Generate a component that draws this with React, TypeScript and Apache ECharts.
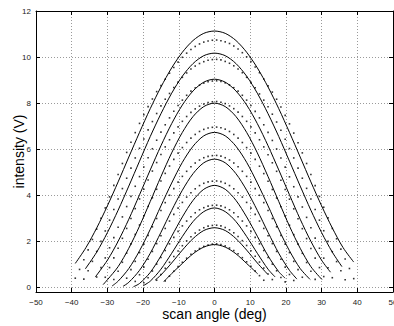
import { useEffect, useRef } from "react";
import * as echarts from "echarts";

// Axis ticks
const xTicks = [-50, -40, -30, -20, -10, 0, 10, 20, 30, 40, 50];
const yTicks = [0, 2, 4, 6, 8, 10, 12];

// Measured scan angles (deg) shared by all sampled profiles
const scanAngles = [
  -39, -37.8, -36.6, -35.4, -34.2, -33, -31.8, -30.6, -29.4, -28.2, -27, -25.8, -24.6, -23.4, -22.2, -21,
  -19.8, -18.6, -17.4, -16.2, -15, -13.8, -12.6, -11.4, -10.2, -9, -7.8, -6.6, -5.4, -4.2, -3, -1.8, -0.6,
  0.6, 1.8, 3, 4.2, 5.4, 6.6, 7.8, 9, 10.2, 11.4, 12.6, 13.8, 15, 16.2, 17.4, 18.6, 19.8, 21, 22.2, 23.4,
  24.6, 25.8, 27, 28.2, 29.4, 30.6, 31.8, 33, 34.2, 35.4, 36.6, 37.8, 39,
];

// Index into scanAngles of the first sample of each measured profile
const measuredStart = [0, 2, 5, 7, 9, 12, 14, 16, 19, 21];

// Measured intensity profiles (V)
const measured1 = [
  0.4, 0.78, 1.2, 1.63, 2.08, 2.53, 3.0, 3.45, 3.93, 4.43, 4.9, 5.38, 5.86, 6.3, 6.72, 7.12, 7.5, 7.85, 8.18,
  8.5, 8.76, 9.04, 9.3, 9.55, 9.78, 9.99, 10.17, 10.33, 10.46, 10.57, 10.65, 10.7, 10.73,
  10.74, 10.71, 10.66, 10.59, 10.48, 10.35, 10.19, 10.01, 9.8, 9.57, 9.32, 9.05, 8.75, 8.48, 8.17, 7.83, 7.47,
  7.1, 6.7, 6.28, 5.84, 5.38, 4.9, 4.42, 3.95, 3.48, 3.02, 2.56, 2.11, 1.66, 1.23, 0.82, 0.38,
];
const measured2 = [
  0.36, 0.72, 1.13, 1.56, 2.0, 2.45, 2.92, 3.38, 3.84, 4.29, 4.74, 5.18, 5.62, 6.04, 6.44, 6.84, 7.2, 7.55,
  7.88, 8.17, 8.42, 8.68, 8.91, 9.12, 9.31, 9.48, 9.61, 9.72, 9.8, 9.86, 9.89,
  9.9, 9.88, 9.81, 9.73, 9.62, 9.48, 9.32, 9.12, 8.9, 8.67, 8.4, 8.13, 7.84, 7.52, 7.18, 6.82, 6.43, 6.03,
  5.62, 5.18, 4.74, 4.3, 3.84, 3.38, 2.92, 2.46, 2.0, 1.55, 1.12, 0.72, 0.33,
];
const measured3 = [
  0.45, 0.86, 1.28, 1.72, 2.16, 2.61, 3.06, 3.51, 3.95, 4.39, 4.81, 5.23, 5.63, 6.02, 6.39, 6.74, 7.06, 7.36,
  7.65, 7.9, 8.13, 8.34, 8.52, 8.66, 8.78, 8.87, 8.93, 8.96,
  8.97, 8.94, 8.88, 8.79, 8.67, 8.52, 8.34, 8.13, 7.9, 7.64, 7.36, 7.06, 6.73, 6.38, 6.01, 5.62, 5.22, 4.8,
  4.37, 3.93, 3.49, 3.04, 2.59, 2.14, 1.7, 1.27, 0.85, 0.42,
];
const measured4 = [
  0.44, 0.86, 1.28, 1.7, 2.13, 2.56, 2.99, 3.42, 3.84, 4.26, 4.66, 5.05, 5.42, 5.77, 6.1, 6.41, 6.71, 6.97,
  7.21, 7.42, 7.6, 7.75, 7.87, 7.96, 8.03, 8.06,
  8.07, 8.04, 7.98, 7.88, 7.76, 7.61, 7.42, 7.21, 6.97, 6.71, 6.41, 6.1, 5.76, 5.41, 5.04, 4.65, 4.25, 3.83,
  3.41, 2.98, 2.55, 2.12, 1.69, 1.27, 0.86, 0.47,
];
const measured5 = [
  0.34, 0.7, 1.09, 1.49, 1.89, 2.3, 2.71, 3.11, 3.51, 3.89, 4.26, 4.62, 4.95, 5.27, 5.56, 5.83, 6.07, 6.29,
  6.48, 6.64, 6.77, 6.86, 6.92, 6.95,
  6.96, 6.93, 6.87, 6.77, 6.64, 6.48, 6.29, 6.07, 5.83, 5.56, 5.26, 4.94, 4.61, 4.25, 3.88, 3.5, 3.1, 2.7,
  2.29, 1.88, 1.48, 1.08, 0.7, 0.35,
];
const measured6 = [
  0.4, 0.77, 1.13, 1.51, 1.88, 2.26, 2.63, 2.99, 3.34, 3.68, 4.0, 4.29, 4.57, 4.82, 5.04, 5.24, 5.4, 5.53,
  5.63, 5.69, 5.72,
  5.73, 5.7, 5.63, 5.53, 5.4, 5.24, 5.04, 4.82, 4.57, 4.29, 4.0, 3.68, 3.34, 2.99, 2.63, 2.26, 1.88, 1.51,
  1.13, 0.77, 0.44,
];
const measured7 = [
  0.26, 0.55, 0.88, 1.22, 1.56, 1.9, 2.24, 2.56, 2.88, 3.17, 3.44, 3.69, 3.92, 4.11, 4.28, 4.42, 4.52, 4.58,
  4.61,
  4.62, 4.59, 4.52, 4.42, 4.28, 4.11, 3.92, 3.69, 3.44, 3.17, 2.88, 2.56, 2.24, 1.9, 1.56, 1.22, 0.88, 0.56,
  0.3,
];
const measured8 = [
  0.2, 0.42, 0.71, 1.01, 1.3, 1.6, 1.89, 2.17, 2.43, 2.67, 2.88, 3.07, 3.24, 3.37, 3.46, 3.53, 3.56,
  3.57, 3.54, 3.47, 3.37, 3.24, 3.07, 2.88, 2.67, 2.43, 2.17, 1.89, 1.6, 1.3, 1.01, 0.72, 0.43, 0.24,
];
const measured9 = [
  0.31, 0.56, 0.83, 1.09, 1.34, 1.58, 1.81, 2.02, 2.2, 2.36, 2.49, 2.59, 2.66, 2.69,
  2.7, 2.67, 2.6, 2.5, 2.37, 2.21, 2.03, 1.82, 1.59, 1.35, 1.1, 0.84, 0.58, 0.34,
];
const measured10 = [
  0.28, 0.49, 0.7, 0.9, 1.09, 1.27, 1.44, 1.58, 1.69, 1.78, 1.84, 1.88,
  1.89, 1.86, 1.8, 1.71, 1.6, 1.46, 1.29, 1.11, 0.92, 0.71, 0.51, 0.31,
];

// Fitted model curves: [angle (deg), intensity (V)]
const fit1 = [
  [-39, 1.04], [-36, 1.73], [-33, 2.58], [-30, 3.54], [-27, 4.58], [-24, 5.66], [-21, 6.73], [-18, 7.76],
  [-15, 8.7], [-12, 9.53], [-9, 10.21], [-6, 10.72], [-3, 11.03], [0, 11.13], [3, 11.03], [6, 10.72],
  [9, 10.21], [12, 9.53], [15, 8.7], [18, 7.76], [21, 6.73], [24, 5.66], [27, 4.58], [30, 3.54], [33, 2.58],
  [36, 1.73], [39, 1.1],
];
const fit2 = [
  [-36.2, 0.8], [-33, 1.53], [-30, 2.38], [-27, 3.35], [-24, 4.4], [-21, 5.48], [-18, 6.55], [-15, 7.54],
  [-12, 8.43], [-9, 9.17], [-6, 9.72], [-3, 10.06], [0, 10.17], [3, 10.06], [6, 9.72], [9, 9.17], [12, 8.43],
  [15, 7.54], [18, 6.55], [21, 5.48], [24, 4.4], [27, 3.35], [30, 2.38], [33, 1.53], [35.7, 0.9],
];
const fit3 = [
  [-33.4, 0.45], [-30, 1.18], [-27, 2.0], [-24, 2.96], [-21, 4.02], [-18, 5.1], [-15, 6.15], [-12, 7.11],
  [-9, 7.92], [-6, 8.53], [-3, 8.91], [0, 9.04], [3, 8.91], [6, 8.53], [9, 7.92], [12, 7.11], [15, 6.15],
  [18, 5.1], [21, 4.02], [24, 2.96], [27, 2.0], [30, 1.18], [32.5, 0.66],
];
const fit4 = [
  [-31.2, 0.12], [-30, 0.33], [-27, 0.9], [-24, 1.7], [-21, 2.66], [-18, 3.73], [-15, 4.81], [-12, 5.84],
  [-9, 6.73], [-6, 7.42], [-3, 7.85], [0, 8.0], [3, 7.85], [6, 7.42], [9, 6.73], [12, 5.84], [15, 4.81],
  [18, 3.73], [21, 2.66], [24, 1.7], [27, 0.9], [30.1, 0.34],
];
const fit5 = [
  [-28.7, 0.06], [-27, 0.27], [-24, 0.82], [-21, 1.59], [-18, 2.52], [-15, 3.54], [-12, 4.53], [-9, 5.43],
  [-6, 6.13], [-3, 6.58], [0, 6.73], [3, 6.58], [6, 6.13], [9, 5.43], [12, 4.53], [15, 3.54], [18, 2.52],
  [21, 1.59], [24, 0.82], [26.8, 0.34],
];
const fit6 = [
  [-25.6, 0.05], [-24, 0.22], [-21, 0.74], [-18, 1.48], [-15, 2.39], [-12, 3.34], [-9, 4.22], [-6, 4.94],
  [-3, 5.41], [0, 5.57], [3, 5.41], [6, 4.94], [9, 4.22], [12, 3.34], [15, 2.39], [18, 1.48], [21, 0.74],
  [23.1, 0.36],
];
const fit7 = [
  [-22.7, 0.03], [-21, 0.17], [-18, 0.65], [-15, 1.37], [-12, 2.22], [-9, 3.06], [-6, 3.78], [-3, 4.26],
  [0, 4.43], [3, 4.26], [6, 3.78], [9, 3.06], [12, 2.22], [15, 1.37], [18, 0.68], [19.8, 0.4],
];
const fit8 = [
  [-20, 0.07], [-18, 0.27], [-15, 0.79], [-12, 1.48], [-9, 2.21], [-6, 2.86], [-3, 3.29], [0, 3.45],
  [3, 3.29], [6, 2.86], [9, 2.21], [12, 1.48], [15, 0.79], [17, 0.45],
];
const fit9 = [
  [-16.6, 0.32], [-15, 0.54], [-12, 1.06], [-9, 1.62], [-6, 2.12], [-3, 2.47], [0, 2.59], [3, 2.47],
  [6, 2.12], [9, 1.62], [12, 1.06], [14.9, 0.57],
];
const fit10 = [
  [-14.2, 0.25], [-12, 0.6], [-9, 1.04], [-6, 1.46], [-3, 1.75], [0, 1.86], [3, 1.75], [6, 1.46], [9, 1.04],
  [12.1, 0.59],
];

const measuredProfiles = [
  measured1, measured2, measured3, measured4, measured5,
  measured6, measured7, measured8, measured9, measured10,
];
const fittedCurves = [fit1, fit2, fit3, fit4, fit5, fit6, fit7, fit8, fit9, fit10];

const FONT = "'Liberation Sans', Arial, Helvetica, sans-serif";
const minus = (v: number) => String(v).replace("-", "\u2212");

export default function App() {
  const ref = useRef<HTMLDivElement>(null);

  useEffect(() => {
    if (!ref.current) return;
    const chart = echarts.init(ref.current, null, { renderer: "svg" });

    const gridLine = { show: true, lineStyle: { color: "#9a9a9a", width: 1, type: [1, 2] as number[] } };
    const frame = { show: true, onZero: false, lineStyle: { color: "#000", width: 1 } };
    const tick = { show: true, inside: true, length: 4, lineStyle: { color: "#000", width: 1 } };

    const lineSeries = fittedCurves.map((pts) => ({
      type: "line",
      data: pts,
      showSymbol: false,
      smooth: 0.3,
      silent: true,
      lineStyle: { color: "#000", width: 1 },
      z: 3,
    }));

    const dotSeries = measuredProfiles.map((vals, k) => ({
      type: "scatter",
      data: vals.map((v, i) => [scanAngles[measuredStart[k] + i], v]),
      symbol: "rect",
      symbolSize: 1.6,
      silent: true,
      itemStyle: { color: "#000" },
      z: 4,
    }));

    chart.setOption({
      animation: false,
      backgroundColor: "#fff",
      grid: { left: 36, right: 1, top: 11, bottom: 34, containLabel: false, outerBoundsMode: "none" },
      xAxis: [
        {
          type: "value",
          position: "bottom",
          min: xTicks[0],
          max: xTicks[xTicks.length - 1],
          interval: 10,
          axisLine: frame,
          axisTick: tick,
          axisLabel: {
            fontSize: 8,
            color: "#222",
            fontFamily: FONT,
            margin: 6,
            formatter: minus,
            showMinLabel: true,
            showMaxLabel: true,
          },
          splitLine: gridLine,
          name: "scan angle (deg)",
          nameLocation: "middle",
          nameGap: 15,
          nameMoveOverlap: false,
          nameTextStyle: { fontSize: 14, color: "#000", fontFamily: FONT },
        },
        {
          type: "value",
          position: "top",
          min: xTicks[0],
          max: xTicks[xTicks.length - 1],
          interval: 10,
          axisLine: frame,
          axisTick: tick,
          axisLabel: { show: false },
          splitLine: { show: false },
        },
      ],
      yAxis: [
        {
          type: "value",
          position: "left",
          min: -0.2,
          max: 12,
          axisLine: frame,
          axisTick: { ...tick, customValues: yTicks },
          axisLabel: {
            fontSize: 8,
            color: "#222",
            fontFamily: FONT,
            margin: 5,
            customValues: yTicks,
          },
          splitLine: gridLine,
          name: "intensity (V)",
          nameLocation: "middle",
          nameGap: 10,
          nameRotate: 90,
          nameMoveOverlap: false,
          nameTextStyle: { fontSize: 14, color: "#000", fontFamily: FONT },
        },
        {
          type: "value",
          position: "right",
          min: -0.2,
          max: 12,
          axisLine: frame,
          axisTick: { ...tick, customValues: yTicks },
          axisLabel: { show: false },
          splitLine: { show: false },
        },
      ],
      series: [...lineSeries, ...dotSeries],
    });

    return () => chart.dispose();
  }, []);

  return (
    <div
      ref={ref}
      style={{ position: "fixed", left: 0, top: 0, width: 394, height: 326, background: "#fff" }}
    />
  );
}
